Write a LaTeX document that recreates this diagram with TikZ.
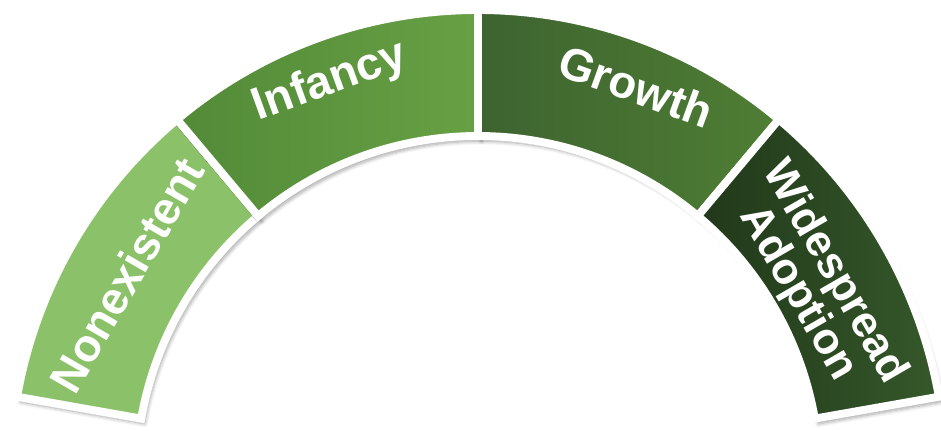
\documentclass[tikz,border=0pt]{standalone}
\usepackage{fontspec}
\setmainfont{Liberation Sans}
\usetikzlibrary{shadows.blur}
\definecolor{nonexgreen}{HTML}{8BC269}
\definecolor{infleft}{HTML}{528A38}
\definecolor{infright}{HTML}{67A044}
\definecolor{growleft}{HTML}{3D6330}
\definecolor{growright}{HTML}{4F7E34}
\definecolor{wideleft}{HTML}{21381A}
\definecolor{wideright}{HTML}{35582A}
\tikzset{segment/.style={draw=white, line width=4.5pt,
           blur shadow={shadow xshift=2pt, shadow yshift=-3pt, shadow opacity=35, shadow blur steps=8}},
         stage/.style={text=white, inner sep=0pt, align=center,
           font=\fontsize{26}{26}\selectfont\bfseries}}

\begin{document}
\begin{tikzpicture}
   \useasboundingbox (-9.56,0.96) rectangle (9.26,9.56);
   % the four stages, outer radius 9.36, inner radius 6.84
   \draw[segment, fill=nonexgreen] (170:9.36) arc[start angle=170, end angle=130, radius=9.36]
         -- (130:6.84) arc[start angle=130, end angle=170, radius=6.84] -- cycle;
   \draw[segment, left color=infleft, right color=infright] (130:9.36) arc[start angle=130, end angle=90, radius=9.36]
         -- (90:6.84) arc[start angle=90, end angle=130, radius=6.84] -- cycle;
   \draw[segment, left color=growleft, right color=growright] (90:9.36) arc[start angle=90, end angle=50, radius=9.36]
         -- (50:6.84) arc[start angle=50, end angle=90, radius=6.84] -- cycle;
   \draw[segment, left color=wideleft, right color=wideright] (50:9.36) arc[start angle=50, end angle=10, radius=9.36]
         -- (10:6.84) arc[start angle=10, end angle=50, radius=6.84] -- cycle;
   % labels
   \node[stage, rotate= 60] (nonex) at (150:8.12)  {Nonexistent};
   \node[stage, rotate= 20] (inf)   at (110.5:8.45) {Infancy};
   \node[stage, rotate=-20] (grow)  at (68:8.45)   {Growth};
   \node[stage, rotate=-60, font=\fontsize{25}{24}\selectfont\bfseries] (wide) at (30:7.8) {Widespread\\Adoption};
\end{tikzpicture}
\end{document}
